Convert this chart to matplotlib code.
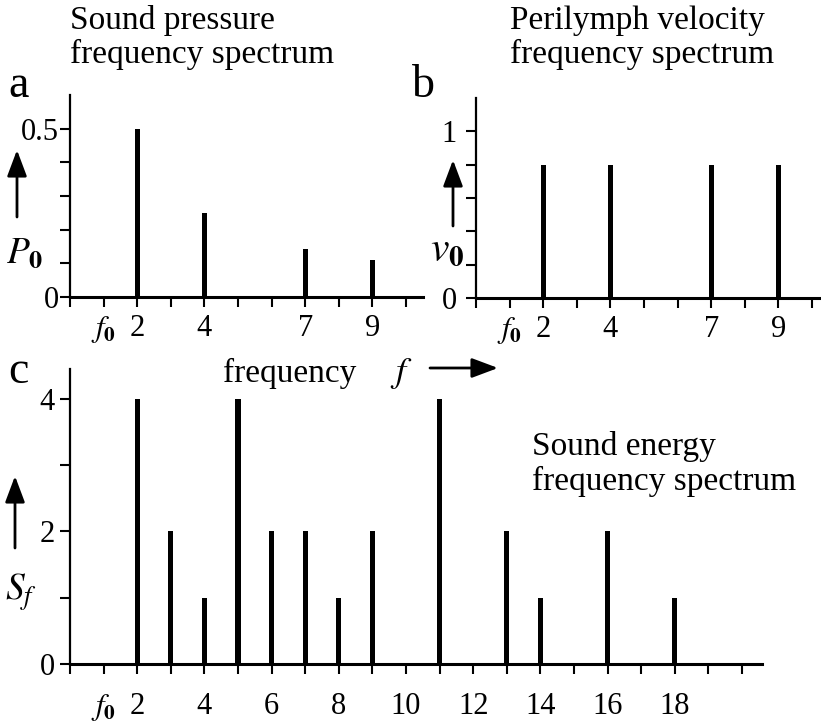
import matplotlib
matplotlib.use("Agg")
import matplotlib.pyplot as plt
from matplotlib.patches import FancyArrowPatch

plt.rcParams['font.family'] = ['Liberation Serif', 'DejaVu Serif']
plt.rcParams['mathtext.fontset'] = 'stix'

# panel a: sound pressure spectrum
freq_a = [2, 4, 7, 9]
pressure_a = [0.5, 0.25, 0.143, 0.111]
yticks_a = [0, 0.1, 0.2, 0.3, 0.4, 0.5]
ylabels_a = ['0', '', '', '', '', '0.5']

# panel b: perilymph velocity spectrum
freq_b = [2, 4, 7, 9]
velocity_b = [0.8, 0.8, 0.8, 0.8]
yticks_b = [0, 0.2, 0.4, 0.6, 0.8, 1.0]
ylabels_b = ['0', '', '', '', '', '1']

xticks_ab = list(range(0, 11))
xlabels_ab = ['', r'$f_\mathbf{0}$', '2', '', '4', '', '', '7', '', '9', '']

# panel c: sound energy spectrum
freq_c = [2, 3, 4, 5, 6, 7, 8, 9, 11, 13, 14, 16, 18]
energy_c = [4, 2, 1, 4, 2, 2, 1, 2, 4, 2, 1, 2, 1]
yticks_c = [0, 1, 2, 3, 4]
ylabels_c = ['0', '', '2', '', '4']
xticks_c = list(range(0, 21))
xlabels_c = ['', r'$f_\mathbf{0}$'] + [str(i) if i % 2 == 0 and i < 20 else '' for i in range(2, 21)]

W, H = 821, 727
fig = plt.figure(figsize=(W / 100, H / 100), dpi=100)


def box(left, top, right, bottom):
    return [left / W, 1 - bottom / H, (right - left) / W, (bottom - top) / H]


def fp(x, y):
    return (x / W, 1 - y / H)


def style(ax, xticks, xlabels, yticks, ylabels, xpad, ypad):
    for s in ['top', 'right']:
        ax.spines[s].set_visible(False)
    ax.spines['left'].set_linewidth(1.6)
    ax.spines['bottom'].set_linewidth(2.2)
    ax.set_xticks(xticks, xlabels)
    ax.set_yticks(yticks, ylabels)
    ax.tick_params(direction='out', length=7, width=1.5, labelsize=22)
    ax.tick_params(axis='x', pad=xpad)
    ax.tick_params(axis='y', pad=ypad)


unit = 33.6

ax_a = fig.add_axes(box(70, 95, 423, 297))
ax_a.bar(freq_a, pressure_a, width=0.15, color='k')
ax_a.set_xlim(0, 353 / unit)
ax_a.set_ylim(0, 0.6)
style(ax_a, xticks_ab, xlabels_ab, yticks_a, ylabels_a, 5, 1)

ax_b = fig.add_axes(box(476, 98, 821, 298))
ax_b.bar(freq_b, velocity_b, width=0.15, color='k')
ax_b.set_xlim(0, 345 / unit)
ax_b.set_ylim(0, 1.2)
style(ax_b, xticks_ab, xlabels_ab, yticks_b, ylabels_b, 5, 7)

ax_c = fig.add_axes(box(70, 369, 762, 664))
ax_c.bar(freq_c, energy_c, width=0.15, color='k')
ax_c.set_xlim(0, 692 / unit)
ax_c.set_ylim(0, 4.45)
style(ax_c, xticks_c, xlabels_c, yticks_c, ylabels_c, 13, 4)

# panel letters
fig.text(*fp(8, 97), 'a', fontsize=33, va='baseline')
fig.text(*fp(412, 97), 'b', fontsize=33, va='baseline')
fig.text(*fp(8, 383), 'c', fontsize=33, va='baseline')

# titles
fig.text(*fp(70, 29), 'Sound pressure', fontsize=24, va='baseline')
fig.text(*fp(70, 63), 'frequency spectrum', fontsize=24, va='baseline')
fig.text(*fp(510, 29), 'Perilymph velocity', fontsize=24, va='baseline')
fig.text(*fp(510, 63), 'frequency spectrum', fontsize=24, va='baseline')
fig.text(*fp(532, 455), 'Sound energy', fontsize=24, va='baseline')
fig.text(*fp(532, 490), 'frequency spectrum', fontsize=24, va='baseline')

# axis names
fig.text(*fp(223, 382), 'frequency', fontsize=24, va='baseline')
fig.text(*fp(390, 382), r'$f$', fontsize=26, va='baseline')
fig.text(*fp(6, 263), r'$P_\mathbf{0}$', fontsize=27, va='baseline')
fig.text(*fp(430, 260), r'$v_\mathbf{0}$', fontsize=30, va='baseline')
fig.text(*fp(5, 600), r'$S_f$', fontsize=27, va='baseline')

for start, end in [((17, 217), (17, 150)), ((453, 226), (453, 160)),
                   ((15, 548), (15, 476)), ((430, 368), (498, 368))]:
    fig.add_artist(FancyArrowPatch(
        fp(*start), fp(*end), transform=fig.transFigure,
        arrowstyle='-|>,head_length=0.8,head_width=0.3', mutation_scale=20,
        lw=2, color='k', shrinkA=0, shrinkB=0))

fig.savefig('out.png', dpi=100)
